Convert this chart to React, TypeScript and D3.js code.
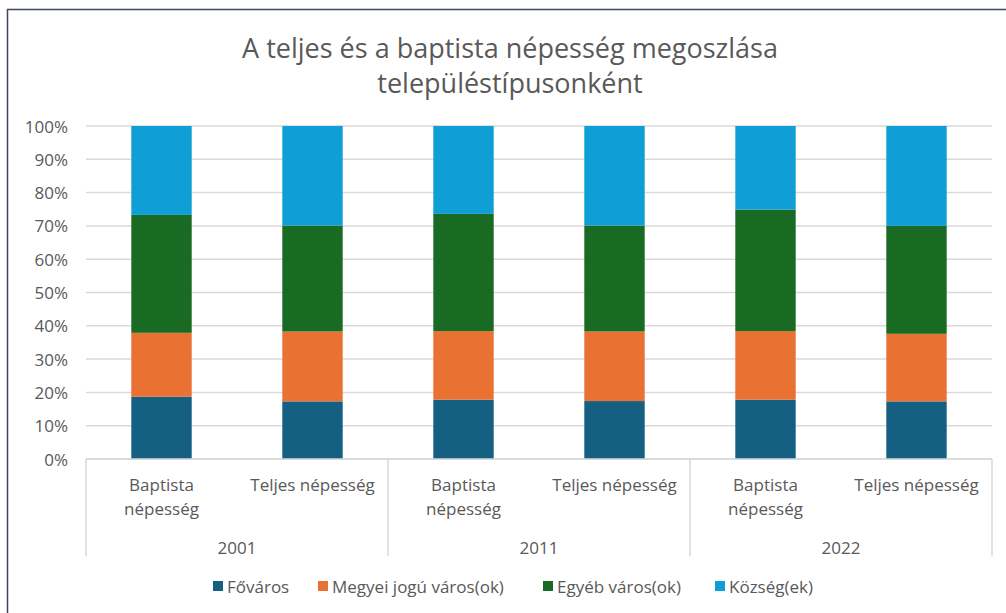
import React from 'react';
import * as d3 from 'd3';

// values (percent of population)
const years = ['2001', '2011', '2022'];
const groups = ['Baptista népesség', 'Teljes népesség'];
const seriesNames = ['Főváros', 'Megyei jogú város(ok)', 'Egyéb város(ok)', 'Község(ek)'];
const seriesColors = ['#156082', '#e97132', '#196b24', '#0f9ed5'];

const fovaros = [18.7, 17.3, 17.8, 17.4, 17.8, 17.3];
const megyei = [19.2, 21.0, 20.6, 20.9, 20.6, 20.3];
const egyeb = [35.4, 31.8, 35.2, 31.8, 36.5, 32.4];
const kozseg = [26.7, 29.9, 26.4, 29.9, 25.1, 30.0];

const yTicks = [0, 10, 20, 30, 40, 50, 60, 70, 80, 90, 100];

const W = 1006;
const H = 613;
const margin = {t: 126, r: 14, b: 154, l: 86};
const font = '"Open Sans", "Liberation Sans", sans-serif';
const textColor = '#595959';
const gridColor = '#d9d9d9';
const labelSize = 17;

// legend item left edges
const legendX = [213, 318, 543, 715];

export default function App() {
	const rows = years.flatMap((y, yi) => groups.map((g, gi) => {
		const i = yi * groups.length + gi;
		return {key: `${y}-${gi}`, year: y, group: g, v0: fovaros[i], v1: megyei[i], v2: egyeb[i], v3: kozseg[i]};
	}));

	const x = d3.scaleBand<string>()
		.domain(rows.map(r => r.key))
		.range([margin.l, W - margin.r])
		.paddingInner(0.6)
		.paddingOuter(0.3);

	const y = d3.scaleLinear()
		.domain([0, 100])
		.range([H - margin.b, margin.t]);

	const stack = d3.stack<any>().keys(['v0', 'v1', 'v2', 'v3']);
	const layers = stack(rows);

	const yearScale = d3.scaleBand<string>()
		.domain(years)
		.range([margin.l, W - margin.r]);

	const axisY0 = y(0);
	const axisBottom = 556;

	return (
		<svg width={W} height={H} style={{position: 'absolute', left: 0, top: 0, background: '#fff'}}>
			<rect x={0} y={0} width={W} height={H} fill='#fff' />
			{/* frame on left and top */}
			<line x1={7.5} x2={7.5} y1={9} y2={H} stroke='#3b4a5a' strokeWidth={1.5} />
			<line x1={7} x2={W} y1={9.5} y2={9.5} stroke='#3b4a5a' strokeWidth={1.5} />

			<text x={510} y={47} textAnchor='middle' dominantBaseline='central' fontFamily={font} fontSize={27} fill={textColor}>
				A teljes és a baptista népesség megoszlása
			</text>
			<text x={510} y={82} textAnchor='middle' dominantBaseline='central' fontFamily={font} fontSize={27} fill={textColor}>
				településtípusonként
			</text>

			<g className='grid'>
				{yTicks.map(t =>
					<g key={t}>
						<line x1={margin.l} x2={W - margin.r} y1={y(t)} y2={y(t)} stroke={gridColor} strokeWidth={1.5} />
						<text x={68} y={y(t)} textAnchor='end' dominantBaseline='central' fontFamily={font} fontSize={labelSize} fill={textColor}>
							{t + '%'}
						</text>
					</g>
				)}
			</g>

			<g className='bars'>
				{layers.map((layer, li) =>
					layer.map(d =>
						<rect
							key={`${li}-${d.data.key}`}
							x={x(d.data.key)}
							y={y(d[1])}
							width={x.bandwidth()}
							height={y(d[0]) - y(d[1])}
							fill={seriesColors[li]}
						/>
					)
				)}
			</g>

			<g className='axis-x'>
				<line x1={margin.l} x2={W - margin.r} y1={axisY0} y2={axisY0} stroke={gridColor} strokeWidth={1.5} />
				{[...years.map(yr => yearScale(yr) as number), W - margin.r].map((sx, i) =>
					<line key={i} x1={sx} x2={sx} y1={axisY0} y2={axisBottom} stroke={gridColor} strokeWidth={1.5} />
				)}
				{rows.map(r => {
					const cx = (x(r.key) as number) + x.bandwidth() / 2;
					const words = r.group.startsWith('Baptista') ? ['Baptista', 'népesség'] : [r.group];
					return (
						<text key={r.key} textAnchor='middle' fontFamily={font} fontSize={labelSize} fill={textColor}>
							{words.map((w, wi) =>
								<tspan key={wi} x={cx} y={484 + wi * 24} dominantBaseline='central'>{w}</tspan>
							)}
						</text>
					);
				})}
				{years.map(yr =>
					<text key={yr} x={(yearScale(yr) as number) + yearScale.bandwidth() / 2} y={547} textAnchor='middle' dominantBaseline='central' fontFamily={font} fontSize={labelSize} fill={textColor}>
						{yr}
					</text>
				)}
			</g>

			<g className='legend'>
				{seriesNames.map((n, i) =>
					<g key={n} transform={`translate(${legendX[i]},586)`}>
						<rect x={0} y={-5} width={10} height={10} fill={seriesColors[i]} />
						<text x={14} y={0} dominantBaseline='central' fontFamily={font} fontSize={labelSize} fill={textColor}>{n}</text>
					</g>
				)}
			</g>
		</svg>
	);
}
